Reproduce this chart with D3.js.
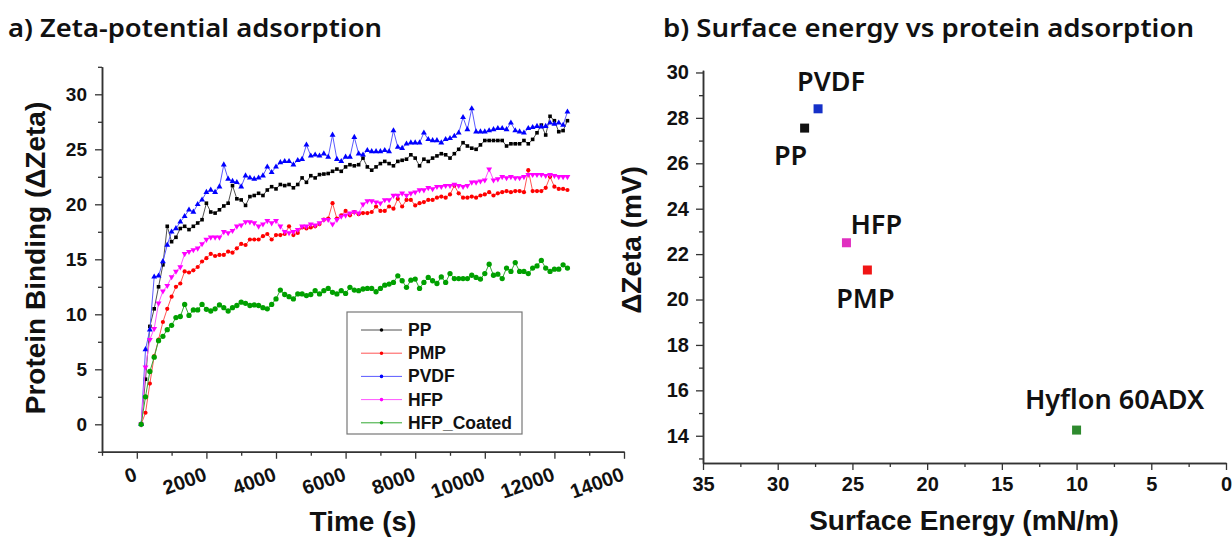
<!DOCTYPE html>
<html>
<head>
<meta charset="utf-8">
<script src="https://cdn.jsdelivr.net/npm/d3@7"></script>
<style>
  body { margin: 0; background: #fff; }
  svg { display: block; }
</style>
</head>
<body>
<svg id="fig" width="1232" height="539"></svg>
<script>
// ---- data: panel a (time series of zeta change) ----
var timeSec = [125,250,375,500,625,750,875,1000,1125,1250,1375,1500,1625,1750,1875,2000,2125,2250,2375,2500,
  2625,2750,2875,3000,3125,3250,3375,3500,3625,3750,3875,4000,4125,4250,4375,4500,4625,4750,4875,5000,
  5125,5250,5375,5500,5625,5750,5875,6000,6125,6250,6375,6500,6625,6750,6875,7000,7125,7250,7375,7500,
  7625,7750,7875,8000,8125,8250,8375,8500,8625,8750,8875,9000,9125,9250,9375,9500,9625,9750,9875,10000,
  10125,10250,10375,10500,10625,10750,10875,11000,11125,11250,11375,11500,11625,11750,11875,12000,12125,12250,12375];

var ppVals = [0,4.1,8.9,10.5,12.5,14.5,18.0,16.6,17.0,17.8,
  18.0,17.7,18.0,18.3,18.6,20.1,19.3,19.2,19.5,19.85,
  20.1,21.7,20.5,20.4,19.9,20.7,20.8,21.0,20.8,21.3,
  21.6,21.4,21.8,21.7,21.8,21.5,21.8,22.4,22.0,22.6,
  22.4,22.7,22.75,22.8,23.0,23.2,23.0,23.4,23.6,23.5,
  23.6,24.2,23.4,23.1,23.4,23.7,23.9,23.7,23.5,23.9,
  24.0,24.1,24.5,24.2,23.5,24.1,23.9,24.2,24.4,24.6,
  24.5,24.2,24.6,25.0,25.6,25.3,25.1,25.0,25.4,25.8,
  25.8,25.8,25.8,25.8,25.3,25.5,25.5,25.5,25.8,25.5,
  25.9,26.5,27.2,26.3,28.0,27.6,26.6,26.7,27.6];

var pmpVals = [0,1.05,3.7,6.2,7.7,9.3,10.5,11.6,12.5,12.8,
  13.9,13.8,14.0,14.3,14.8,15.1,15.5,15.3,15.4,15.4,
  15.7,15.6,16.0,16.4,16.3,16.8,16.8,16.8,17.1,17.3,
  16.8,17.2,17.2,17.3,18.0,17.2,17.4,17.9,17.8,17.9,
  18.0,18.2,18.6,18.7,20.1,18.7,19.0,19.4,19.0,19.3,
  19.1,19.2,19.2,19.3,19.8,19.4,19.4,19.8,19.6,20.5,
  19.8,20.4,20.4,19.9,20.1,20.2,20.4,20.4,20.6,20.7,
  20.6,20.9,21.7,21.0,20.6,20.6,20.7,20.6,20.8,20.9,
  21.1,20.8,21.0,21.1,21.2,21.1,21.2,21.2,21.1,23.1,
  21.2,21.2,21.2,21.5,22.5,21.6,21.4,21.4,21.3];

var pvdfVals = [0,6.8,8.6,13.4,13.5,14.8,16.3,17.5,17.8,18.4,
  18.9,19.5,19.3,20.0,20.4,21.1,21.3,21.1,21.6,23.6,
  22.3,22.1,22.0,21.6,22.6,22.4,22.3,22.4,22.6,23.4,
  22.9,23.4,23.8,23.9,23.9,23.6,24.0,24.1,25.4,24.4,
  24.5,24.4,24.6,24.3,26.3,24.1,23.9,24.3,24.3,26.1,
  24.6,24.5,24.9,24.8,24.8,24.8,24.9,24.8,26.7,25.2,
  25.1,25.5,25.6,25.6,25.6,26.5,25.9,25.8,25.8,25.6,
  25.9,26.0,26.2,26.5,27.9,26.8,28.7,26.6,26.6,26.6,
  26.7,26.8,26.9,26.9,26.8,27.4,26.7,26.6,26.5,26.9,
  27.0,27.1,27.05,27.1,27.4,27.3,27.4,27.2,28.4];

var hfpVals = [0,5.2,7.7,8.7,11.0,12.1,12.6,13.4,13.9,14.3,
  15.5,15.7,15.85,16.0,16.4,16.8,17.0,17.0,17.0,17.5,
  17.4,17.6,18.0,18.1,18.4,18.4,18.3,18.0,18.2,18.5,
  18.3,18.5,18.0,17.5,17.4,17.5,17.7,18.0,18.0,18.2,
  18.1,18.3,18.6,18.6,18.2,18.6,18.9,19.0,19.2,19.3,
  19.2,20.0,20.3,20.3,20.2,20.1,20.4,20.4,20.8,20.8,
  21.0,20.8,21.0,21.1,21.3,21.3,21.5,21.4,21.6,21.6,
  21.7,21.7,21.8,21.7,21.6,21.7,22.0,22.0,22.1,22.2,
  23.2,22.2,22.3,22.5,22.4,22.5,22.4,22.4,22.5,22.7,
  22.7,22.7,22.7,22.6,22.7,22.6,22.5,22.5,22.5];

var coatedVals = [0,2.5,4.8,6.1,7.6,8.0,8.6,9.0,9.7,9.8,
  10.9,9.9,10.4,10.4,10.9,10.45,10.3,10.5,10.85,10.6,
  10.3,10.6,10.8,11.1,11.0,10.8,10.85,10.8,10.6,10.5,
  10.9,11.4,12.2,11.8,11.6,11.4,11.85,11.85,11.7,11.8,
  12.15,11.85,12.15,12.35,12.0,11.85,12.15,11.9,12.45,12.2,
  12.15,12.3,12.35,12.35,12.05,12.35,12.65,12.75,12.9,13.5,
  13.05,12.45,13.1,13.2,12.35,12.9,13.35,13.05,12.8,13.4,
  12.9,13.7,13.25,13.25,13.25,13.25,13.55,13.35,13.2,13.7,
  14.55,13.55,13.65,13.25,14.2,13.9,14.7,13.9,13.9,13.7,
  14.2,14.4,14.9,14.2,13.9,14.1,14.1,14.5,14.2];

var seriesNames = ["PP", "PMP", "PVDF", "HFP", "HFP_Coated"];
var timeTicks = [0, 2000, 4000, 6000, 8000, 10000, 12000, 14000];
var zetaTicks = [0, 5, 10, 15, 20, 25, 30];

// ---- data: panel b (surface energy vs delta zeta) ----
var materials = ["PP", "PVDF", "HFP", "PMP", "Hyflon 60ADX"];
var surfaceEnergy = [28.2, 27.3, 25.4, 24.0, 10.0];
var deltaZeta = [27.55, 28.4, 22.5, 21.3, 14.25];
var energyTicks = [35, 30, 25, 20, 15, 10, 5, 0];
var dZetaTicks = [14, 16, 18, 20, 22, 24, 26, 28, 30];

var svg = d3.select("#fig");
svg.append("rect").attr("width", 1232).attr("height", 539).attr("fill", "#fff");

var axisFont = "'Liberation Sans', Arial, sans-serif";
var titleFont = "'Noto Sans', 'Open Sans', sans-serif";

// titles (stretched to the width they take in the figure)
svg.append("text").attr("x", 8).attr("y", 37)
  .attr("font-family", titleFont).attr("font-weight", 600).attr("font-size", 26)
  .attr("textLength", 374).attr("lengthAdjust", "spacingAndGlyphs")
  .attr("fill", "#111").text("a) Zeta-potential adsorption");
svg.append("text").attr("x", 663).attr("y", 37)
  .attr("font-family", titleFont).attr("font-weight", 600).attr("font-size", 26)
  .attr("textLength", 531).attr("lengthAdjust", "spacingAndGlyphs")
  .attr("fill", "#111").text("b) Surface energy vs protein adsorption");

// ================= panel a =================
var xA = d3.scaleLinear().domain([-1000, 14000]).range([102, 624]);
var yA = d3.scaleLinear().domain([-2.5, 32.5]).range([451.8, 66.8]);

function styleAxis(g) {
  g.select(".domain").attr("stroke", "#333").attr("stroke-width", 1.5);
  g.selectAll(".tick line").attr("stroke", "#333").attr("stroke-width", 1.3);
  g.selectAll("text").attr("font-family", axisFont).attr("font-weight", "bold").attr("fill", "#111");
}

var minorX = d3.range(-1000, 14001, 1000).filter(function (v) { return timeTicks.indexOf(v) < 0; });
svg.append("g").attr("transform", "translate(0," + yA(-2.5) + ")")
  .call(d3.axisBottom(xA).tickValues(minorX).tickSize(4).tickSizeOuter(0).tickFormat(""))
  .call(styleAxis);
var gxA = svg.append("g").attr("transform", "translate(0," + yA(-2.5) + ")")
  .call(d3.axisBottom(xA).tickValues(timeTicks).tickSize(7).tickSizeOuter(0).tickFormat(d3.format("d")))
  .call(styleAxis);
gxA.selectAll("text").attr("font-size", 20).attr("y", null).attr("dy", null)
  .attr("text-anchor", "end").attr("transform", "translate(1,28) rotate(-20)");

var minorY = d3.range(-2.5, 33, 5);
svg.append("g").attr("transform", "translate(" + xA(-1000) + ",0)")
  .call(d3.axisLeft(yA).tickValues(minorY).tickSize(4).tickSizeOuter(0).tickFormat(""))
  .call(styleAxis);
var gyA = svg.append("g").attr("transform", "translate(" + xA(-1000) + ",0)")
  .call(d3.axisLeft(yA).tickValues(zetaTicks).tickSize(7).tickPadding(8).tickSizeOuter(0))
  .call(styleAxis);
gyA.selectAll("text").attr("font-size", 19);

svg.append("text").attr("transform", "translate(45,258) rotate(-90)")
  .attr("text-anchor", "middle").attr("font-family", axisFont).attr("font-weight", "bold")
  .attr("font-size", 28).attr("fill", "#111").text("Protein Binding (\u0394Zeta)");
svg.append("text").attr("x", 363).attr("y", 531)
  .attr("text-anchor", "middle").attr("font-family", axisFont).attr("font-weight", "bold")
  .attr("font-size", 28).attr("fill", "#111").text("Time (s)");

var seriesVals = [ppVals, pmpVals, pvdfVals, hfpVals, coatedVals];
var lineColors = ["#505050", "#ff5555", "#5a5aff", "#ff55ff", "#33a833"];
var dotColors = ["#000000", "#ff0000", "#0000ff", "#ff00ff", "#00a000"];
var symbols = [
  d3.symbol().type(d3.symbolSquare).size(13),
  d3.symbol().type(d3.symbolCircle).size(14),
  d3.symbol().type(d3.symbolTriangle).size(15),
  d3.symbol().type(d3.symbolTriangle).size(15),
  d3.symbol().type(d3.symbolCircle).size(22)
];
var flip = [false, false, false, true, false];

var lineA = d3.line()
  .x(function (d) { return xA(d[0]); })
  .y(function (d) { return yA(d[1]); });

seriesVals.forEach(function (vals, i) {
  var pts = vals.map(function (v, j) { return [timeSec[j], v]; });
  var g = svg.append("g");
  g.append("path").datum(pts).attr("d", lineA)
    .attr("fill", "none").attr("stroke", lineColors[i]).attr("stroke-width", 1);
  g.selectAll("path.pt").data(pts).enter().append("path").attr("class", "pt")
    .attr("d", symbols[i])
    .attr("transform", function (d) {
      return "translate(" + xA(d[0]) + "," + yA(d[1]) + ")" + (flip[i] ? " rotate(180)" : "");
    })
    .attr("fill", dotColors[i]);
});

// legend
var leg = svg.append("g");
leg.append("rect").attr("x", 347).attr("y", 312).attr("width", 175).attr("height", 122)
  .attr("fill", "#fff").attr("stroke", "#777").attr("stroke-width", 1.2);
seriesNames.forEach(function (name, i) {
  var ly = 330 + i * 23.2;
  leg.append("line").attr("x1", 361).attr("x2", 402).attr("y1", ly).attr("y2", ly)
    .attr("stroke", lineColors[i]).attr("stroke-width", 1);
  leg.append("path").attr("d", d3.symbol().type(d3.symbolCircle).size(10))
    .attr("transform", "translate(381.5," + ly + ")")
    .attr("fill", dotColors[i]);
  leg.append("text").attr("x", 408).attr("y", ly + 6)
    .attr("font-family", axisFont).attr("font-weight", "bold").attr("font-size", 17.5)
    .attr("fill", "#111").text(name);
});

// ================= panel b =================
var xB = d3.scaleLinear().domain([35, 0]).range([703, 1226]);
var yB = d3.scaleLinear().domain([12.8, 30.1]).range([463, 70.2]);

var minorE = d3.range(32.5, 0, -5);
svg.append("g").attr("transform", "translate(0," + yB(12.8) + ")")
  .call(d3.axisBottom(xB).tickValues(minorE).tickSize(4).tickSizeOuter(0).tickFormat(""))
  .call(styleAxis);
var gxB = svg.append("g").attr("transform", "translate(0," + yB(12.8) + ")")
  .call(d3.axisBottom(xB).tickValues(energyTicks).tickSize(7).tickPadding(7).tickSizeOuter(0))
  .call(styleAxis);
gxB.selectAll("text").attr("font-size", 20);

var minorZ = d3.range(13, 30, 2);
svg.append("g").attr("transform", "translate(" + xB(35) + ",0)")
  .call(d3.axisLeft(yB).tickValues(minorZ).tickSize(4).tickSizeOuter(0).tickFormat(""))
  .call(styleAxis);
var gyB = svg.append("g").attr("transform", "translate(" + xB(35) + ",0)")
  .call(d3.axisLeft(yB).tickValues(dZetaTicks).tickSize(7).tickPadding(7).tickSizeOuter(0))
  .call(styleAxis);
gyB.selectAll("text").attr("font-size", 20);

svg.append("text").attr("transform", "translate(641,240) rotate(-90)")
  .attr("text-anchor", "middle").attr("font-family", axisFont).attr("font-weight", "bold")
  .attr("font-size", 28).attr("fill", "#111").text("\u0394Zeta (mV)");
svg.append("text").attr("x", 964).attr("y", 530)
  .attr("text-anchor", "middle").attr("font-family", axisFont).attr("font-weight", "bold")
  .attr("font-size", 28).attr("fill", "#111").text("Surface Energy (mN/m)");

var pointColors = ["#111111", "#1530c8", "#e030c0", "#f01515", "#2e8a2e"];
// label offsets relative to the marker: [dx, dy, anchor]
var labelPos = [[-14, 37, "middle"], [13, -18, "middle"], [4, -9, "start"], [-2, 38, "middle"], [38, -21, "middle"]];

materials.forEach(function (m, i) {
  var px = xB(surfaceEnergy[i]), py = yB(deltaZeta[i]);
  svg.append("rect").attr("x", px - 4.5).attr("y", py - 4.5).attr("width", 9).attr("height", 9)
    .attr("fill", pointColors[i]);
  svg.append("text").attr("x", px + labelPos[i][0]).attr("y", py + labelPos[i][1])
    .attr("text-anchor", labelPos[i][2]).attr("font-family", titleFont).attr("font-weight", 600)
    .attr("font-size", 27).attr("fill", "#111").text(m);
});
</script>
</body>
</html>
